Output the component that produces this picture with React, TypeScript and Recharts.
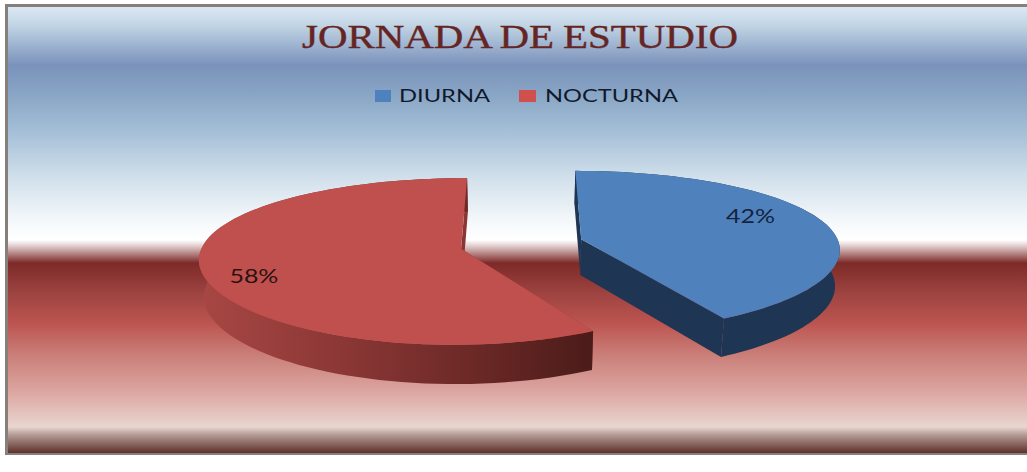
import React from "react";
import { PieChart, Pie, Legend } from "recharts";

const categories = ["DIURNA", "NOCTURNA"];
const shares = [42, 58];
const topColors = ["#4f81bd", "#c0504d"];
const legendColors = ["#4f81bd", "#cf504c"];
const sideColors = ["#1e3553", "#8a3634"];

const pieData = categories.map((name, i) => ({ name, value: shares[i], fill: topColors[i] }));

// fake 3D camera: vanishing x, centre y, squash, perspective, slice pull-out, wall height
const VX = 521.5;
const CY = 244;
const RY = 80;
const KX = 0.11;
const KY = 0.15;
const PULL = 62;
const DEPTH = 36;
const LOWER = 0.985;

const toRad = (d: number) => (d * Math.PI) / 180;

const depthOf = (angle: number, radial: number, mid: number, r: number) => {
  const X = PULL * Math.cos(toRad(mid)) + r * radial * Math.cos(toRad(angle));
  const v = (-PULL * Math.sin(toRad(mid)) - r * radial * Math.sin(toRad(angle))) / r;
  return { X, v, sx: 1 / (1 - KX * v), sy: 1 / (1 - KY * v) };
};

const upper = (angle: number, radial: number, mid: number, r: number) => {
  const { X, v, sx, sy } = depthOf(angle, radial, mid, r);
  return [VX + X * sx, CY + RY * v * sy];
};

const lower = (angle: number, radial: number, mid: number, r: number) => {
  const { X, v, sx, sy } = depthOf(angle, radial, mid, r);
  return [VX + X * sx * LOWER, CY + RY * v * sy * LOWER + DEPTH * sx];
};

const toPath = (pts: number[][]) =>
  "M" + pts.map((p) => `${p[0].toFixed(1)},${p[1].toFixed(1)}`).join("L") + "Z";

const Slice3D = (props: any) => {
  const { startAngle, endAngle, midAngle, outerRadius: r, index } = props;
  const angles: number[] = [];
  const steps = 90;
  for (let i = 0; i <= steps; i++) angles.push(startAngle + ((endAngle - startAngle) * i) / steps);

  const topArc = angles.map((a) => upper(a, 1, midAngle, r));
  const lowArc = angles.map((a) => lower(a, 1, midAngle, r));
  const apexTop = upper(0, 0, midAngle, r);
  const apexLow = lower(0, 0, midAngle, r);
  const side = sideColors[index];
  const wallFill = index === 0 ? "#1e3553" : "url(#redWall)";

  return (
    <g>
      <path d={toPath([apexTop, topArc[0], lowArc[0], apexLow])} fill={side} />
      <path d={toPath([apexTop, topArc[steps], lowArc[steps], apexLow])} fill={side} />
      <path d={toPath([...topArc, ...[...lowArc].reverse()])} fill={wallFill} />
      <path d={toPath([apexTop, ...topArc])} fill={topColors[index]} />
    </g>
  );
};

const labelSpots = [
  { radial: 0.7, shift: -10 },
  { radial: 0.8, shift: 10 },
];

const renderLabel = (props: any) => {
  const { midAngle, outerRadius, index, percent } = props;
  const spot = labelSpots[index];
  const [x, y] = upper(midAngle, spot.radial, midAngle, outerRadius);
  return (
    <text
      key={index}
      x={x}
      y={y + spot.shift}
      textAnchor="middle"
      dominantBaseline="central"
      fontFamily="Lato"
      fontSize={19}
      fill={index === 0 ? "#14233f" : "#2b1212"}
      textLength={49}
      lengthAdjust="spacingAndGlyphs"
    >
      {`${Math.round(percent * 100)}%`}
    </text>
  );
};

const legendSpots = [
  { box: 375, text: 399, width: 91 },
  { box: 519, text: 545, width: 133 },
];

const renderLegend = (props: any) => (
  <svg width={1027} height={30} style={{ display: "block" }}>
    {props.payload.map((entry: any, i: number) => (
      <g key={entry.value}>
        <rect x={legendSpots[i].box} y={5} width={i === 0 ? 16 : 17} height={12} fill={legendColors[i]} />
        <text
          x={legendSpots[i].text}
          y={17}
          fontFamily="Lato"
          fontSize={18}
          fill="#10182c"
          textLength={legendSpots[i].width}
          lengthAdjust="spacingAndGlyphs"
        >
          {entry.value}
        </text>
      </g>
    ))}
  </svg>
);

const panelGradient = `linear-gradient(180deg,
  #dbe8f3 0px, #c2d5e5 18px, #7b92bb 58px, #8aa7c6 90px, #a3bed6 123px,
  #d3e1ec 173px, #f7fafc 218px, #ffffff 233px, #e6d6d6 238px, #7d2a28 256px,
  #9c4340 285px, #bc5450 316px, #cb817b 350px, #dca6a1 385px, #e9d6d0 420px,
  #b39a93 428px, #5a2a25 447px)`;

export default function App() {
  return (
    <div style={{ position: "absolute", left: 0, top: 0, width: 1027, height: 472, background: "#fff" }}>
      <div
        style={{
          position: "absolute",
          left: 5,
          top: 4,
          width: 1022,
          height: 451,
          boxSizing: "border-box",
          borderLeft: "3px solid #85807c",
          borderTop: "3px solid #85807c",
          borderBottom: "2px solid #85807c",
          background: panelGradient,
        }}
      />
      <div style={{ position: "absolute", left: 0, top: 0 }}>
        <PieChart width={1027} height={472} margin={{ top: 0, right: 0, bottom: 0, left: 0 }}>
          <defs>
            <linearGradient id="redWall" gradientUnits="userSpaceOnUse" x1={200} y1={0} x2={588} y2={0}>
              <stop offset="0" stopColor="#a84744" />
              <stop offset="0.4" stopColor="#883634" />
              <stop offset="0.75" stopColor="#672724" />
              <stop offset="1" stopColor="#4c1c1a" />
            </linearGradient>
          </defs>
          <text
            x={302}
            y={48}
            fontFamily="'Liberation Serif'"
            fontSize={33}
            fill="#652523"
            stroke="#652523"
            strokeWidth={0.4}
            wordSpacing={-1}
            textLength={436}
            lengthAdjust="spacingAndGlyphs"
          >
            JORNADA DE ESTUDIO
          </text>
          <Legend
            content={renderLegend}
            wrapperStyle={{ position: "absolute", left: 0, top: 85, width: 1027 }}
          />
          <Pie
            data={pieData}
            dataKey="value"
            nameKey="name"
            cx={VX}
            cy={CY}
            outerRadius={258}
            startAngle={90}
            endAngle={-270}
            stroke="none"
            labelLine={false}
            label={renderLabel}
            shape={Slice3D}
            isAnimationActive={false}
          />
        </PieChart>
      </div>
    </div>
  );
}
